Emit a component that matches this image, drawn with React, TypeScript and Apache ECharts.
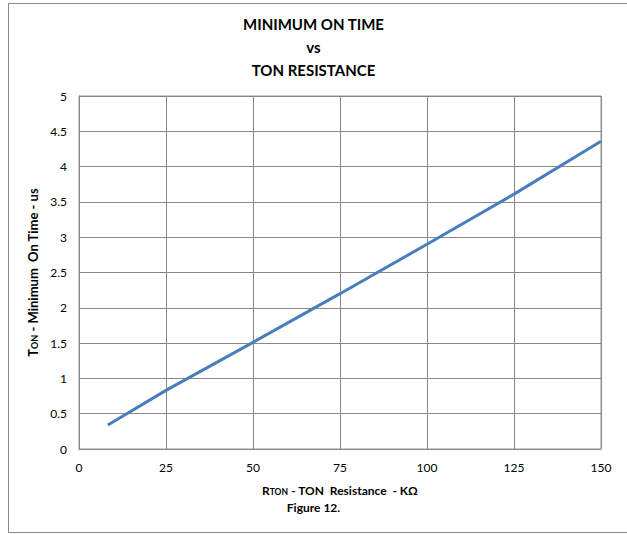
import React, { useEffect, useRef } from "react";
import * as echarts from "echarts";

const titleLines = ["MINIMUM ON TIME", "vs", "TON RESISTANCE"];
const resistanceK = [8.3, 25, 50, 75, 100, 125, 150];
const minOnTimeUs = [0.34, 0.83, 1.51, 2.2, 2.9, 3.61, 4.36];
const xTicks = [0, 25, 50, 75, 100, 125, 150];
const yTicks = [0, 0.5, 1, 1.5, 2, 2.5, 3, 3.5, 4, 4.5, 5];

const FONT = "Lato, 'Open Sans', sans-serif";

export default function App() {
  const ref = useRef<HTMLDivElement>(null);
  useEffect(() => {
    if (!ref.current) return;
    const chart = echarts.init(ref.current, null, { renderer: "svg" });
    const data = resistanceK.map((x, i) => [x, minOnTimeUs[i]]);
    chart.setOption({
      animation: false,
      textStyle: { fontFamily: FONT },
      title: {
        text: titleLines.join("\n"),
        left: "center",
        top: 7,
        textStyle: {
          fontFamily: FONT,
          fontSize: 15,
          fontWeight: "bold",
          color: "#000",
          lineHeight: 23,
        },
      },
      graphic: [
        {
          type: "rect",
          shape: { x: 8.5, y: 3.5, width: 640, height: 529 },
          style: { fill: "none", stroke: "#888", lineWidth: 1 },
          silent: true,
          z: -10,
        },
        {
          type: "text",
          left: "center",
          top: 501,
          style: {
            text: "Figure 12.",
            fontFamily: FONT,
            fontSize: 12,
            fontWeight: "bold",
            fill: "#000",
          },
        },
      ],
      grid: { left: 79, right: 26, top: 96, bottom: 85, containLabel: false, show: true, borderColor: "#999", borderWidth: 1 },
      xAxis: {
        type: "value",
        min: xTicks[0],
        max: xTicks[xTicks.length - 1],
        interval: 25,
        axisLine: { show: true, lineStyle: { color: "#888" } },
        axisTick: { show: false },
        splitLine: { show: true, lineStyle: { color: "#888", width: 1 } },
        axisLabel: { color: "#000", fontSize: 12, margin: 12, fontFamily: FONT },
        name: "{s|R}{sub|TON}{s| - TON  Resistance  - KΩ}",
        nameLocation: "middle",
        nameGap: 35,
        nameTextStyle: {
          rich: {
            s: { fontSize: 12, fontWeight: "bold", color: "#000", fontFamily: FONT, verticalAlign: "bottom" },
            sub: { fontSize: 8.5, fontWeight: "bold", color: "#000", fontFamily: FONT, verticalAlign: "bottom", padding: [2, 0, 0, 0] },
          },
        },
      },
      yAxis: {
        type: "value",
        min: yTicks[0],
        max: yTicks[yTicks.length - 1],
        interval: 0.5,
        axisLine: { show: true, lineStyle: { color: "#888" } },
        axisTick: { show: false },
        splitLine: { show: true, lineStyle: { color: "#888", width: 1 } },
        axisLabel: { color: "#000", fontSize: 12, margin: 12, fontFamily: FONT },
        name: "{s|T}{sub|ON}{s| - Minimum  On Time - us}",
        nameLocation: "middle",
        nameGap: 33,
        nameRotate: 90,
        nameTextStyle: {
          rich: {
            s: { fontSize: 13, fontWeight: "bold", color: "#000", fontFamily: FONT, verticalAlign: "bottom" },
            sub: { fontSize: 9, fontWeight: "bold", color: "#000", fontFamily: FONT, verticalAlign: "bottom", padding: [2, 0, 0, 0] },
          },
        },
      },
      series: [
        {
          type: "line",
          data,
          showSymbol: false,
          symbol: "none",
          lineStyle: { color: "#4a7ebb", width: 3 },
          smooth: false,
        },
      ],
    });
    return () => chart.dispose();
  }, []);
  return (
    <div
      ref={ref}
      style={{ position: "fixed", left: 0, top: 0, width: 627, height: 534, background: "#fff" }}
    />
  );
}
